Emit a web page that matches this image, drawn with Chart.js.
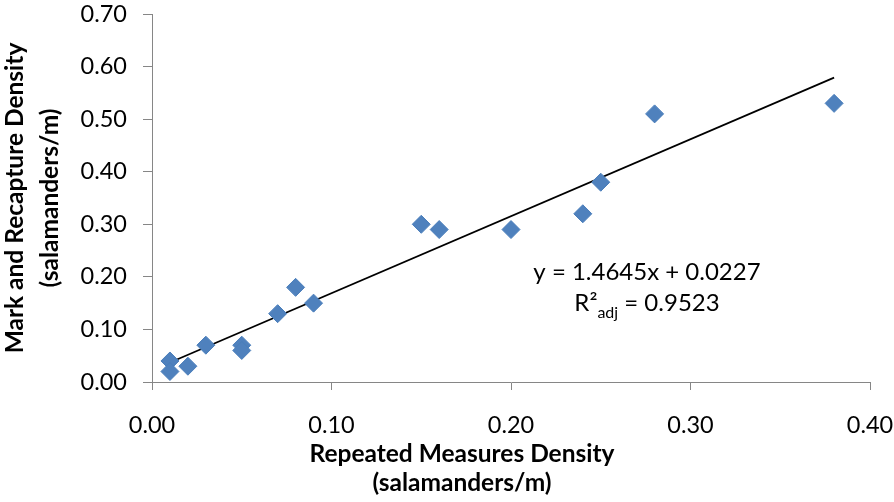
<!DOCTYPE html>
<html>
<head>
<meta charset="utf-8">
<script src="https://cdn.jsdelivr.net/npm/chart.js@4/dist/chart.umd.min.js"></script>
<style>
  html, body { margin: 0; padding: 0; background: #ffffff; }
  #wrap { width: 894px; height: 502px; }
</style>
</head>
<body>
<div id="wrap"><canvas id="c" width="894" height="502"></canvas></div>
<script>
// ---- data ----
const repeatedDensity = [0.01, 0.01, 0.02, 0.03, 0.05, 0.05, 0.07, 0.08, 0.09, 0.15, 0.16, 0.20, 0.24, 0.25, 0.28, 0.38];
const markRecapDensity = [0.04, 0.02, 0.03, 0.07, 0.07, 0.06, 0.13, 0.18, 0.15, 0.30, 0.29, 0.29, 0.32, 0.38, 0.51, 0.53];
const trendX = [0.01, 0.38];
const trendY = [0.037, 0.579];
const xTickValues = [0.00, 0.10, 0.20, 0.30, 0.40];
const yTickValues = [0.00, 0.10, 0.20, 0.30, 0.40, 0.50, 0.60, 0.70];
const xTitle = ["Repeated Measures Density", "(salamanders/m)"];
const yTitle = ["Mark and Recapture Density", "(salamanders/m)"];
const equationText = "y = 1.4645x + 0.0227";
const r2Parts = ["R\u00B2", "adj", " = 0.9523"];

const FONT = "Lato, 'Open Sans', sans-serif";
const AXIS_GRAY = "#868686";

const points = repeatedDensity.map((x, i) => ({ x: x, y: markRecapDensity[i] }));
const trend = trendX.map((x, i) => ({ x: x, y: trendY[i] }));

const annotationPlugin = {
  id: 'annotations',
  afterDraw(chart) {
    const ctx = chart.ctx;
    ctx.save();
    ctx.fillStyle = '#000000';
    // x-axis title (two lines)
    ctx.font = "bold 24.5px " + FONT;
    ctx.textAlign = 'center';
    ctx.textBaseline = 'alphabetic';
    ctx.fillText(xTitle[0], 462, 462);
    ctx.fillText(xTitle[1], 462, 491);
    // equation
    ctx.font = "24px " + FONT;
    ctx.fillText(equationText, 647, 280);
    // R^2 adj line
    ctx.textAlign = 'left';
    const big = "24px " + FONT, small = "16px " + FONT;
    ctx.font = big; const w0 = ctx.measureText(r2Parts[0]).width;
    ctx.font = small; const w1 = ctx.measureText(r2Parts[1]).width;
    ctx.font = big; const w2 = ctx.measureText(r2Parts[2]).width;
    let x = 647 - (w0 + w1 + w2) / 2;
    ctx.font = big; ctx.fillText(r2Parts[0], x, 311); x += w0;
    ctx.font = small; ctx.fillText(r2Parts[1], x, 318); x += w1;
    ctx.font = big; ctx.fillText(r2Parts[2], x, 311);
    ctx.restore();
  }
};

new Chart(document.getElementById('c'), {
  type: 'scatter',
  data: {
    datasets: [
      {
        label: 'Density',
        data: points,
        pointStyle: 'rectRot',
        pointRadius: 9,
        pointHoverRadius: 9,
        backgroundColor: '#4F81BD',
        borderColor: '#4A7EBB',
        borderWidth: 1,
        order: 1
      },
      {
        label: 'Linear trend',
        type: 'line',
        data: trend,
        borderColor: '#000000',
        borderWidth: 1.75,
        pointRadius: 0,
        fill: false,
        tension: 0,
        order: 2
      }
    ]
  },
  options: {
    responsive: false,
    animation: false,
    devicePixelRatio: 1,
    layout: { padding: { left: 0, right: 0, top: 0, bottom: 0 } },
    plugins: {
      legend: { display: false },
      tooltip: { enabled: false },
      title: { display: false }
    },
    scales: {
      x: {
        type: 'linear',
        min: 0,
        max: 0.4,
        afterBuildTicks(scale) { scale.ticks = xTickValues.map(v => ({ value: v })); },
        afterFit(scale) {
          scale.height = 120;
          scale.paddingLeft = 0;
          scale.paddingRight = 24;
        },
        ticks: {
          padding: 21,
          color: '#000000',
          font: { family: FONT, size: 23.5 },
          callback: v => Number(v).toFixed(2)
        },
        grid: { drawOnChartArea: false, drawTicks: true, tickLength: 8, color: AXIS_GRAY, lineWidth: 1 },
        border: { display: true, color: AXIS_GRAY, width: 1 },
        title: { display: false }
      },
      y: {
        type: 'linear',
        min: 0,
        max: 0.7,
        afterBuildTicks(scale) { scale.ticks = yTickValues.map(v => ({ value: v })); },
        afterFit(scale) {
          scale.width = 152;
          scale.paddingTop = 14;
          scale.paddingBottom = 0;
        },
        ticks: {
          padding: 16,
          color: '#000000',
          font: { family: FONT, size: 23.5 },
          callback: v => Number(v).toFixed(2)
        },
        grid: { drawOnChartArea: false, drawTicks: true, tickLength: 9, color: AXIS_GRAY, lineWidth: 1 },
        border: { display: true, color: AXIS_GRAY, width: 1 },
        title: {
          display: true,
          text: yTitle,
          color: '#000000',
          font: { family: FONT, size: 24.5, weight: 'bold', lineHeight: 1.45 },
          padding: { top: -3, bottom: 0 }
        }
      }
    }
  },
  plugins: [annotationPlugin]
});
</script>
</body>
</html>
